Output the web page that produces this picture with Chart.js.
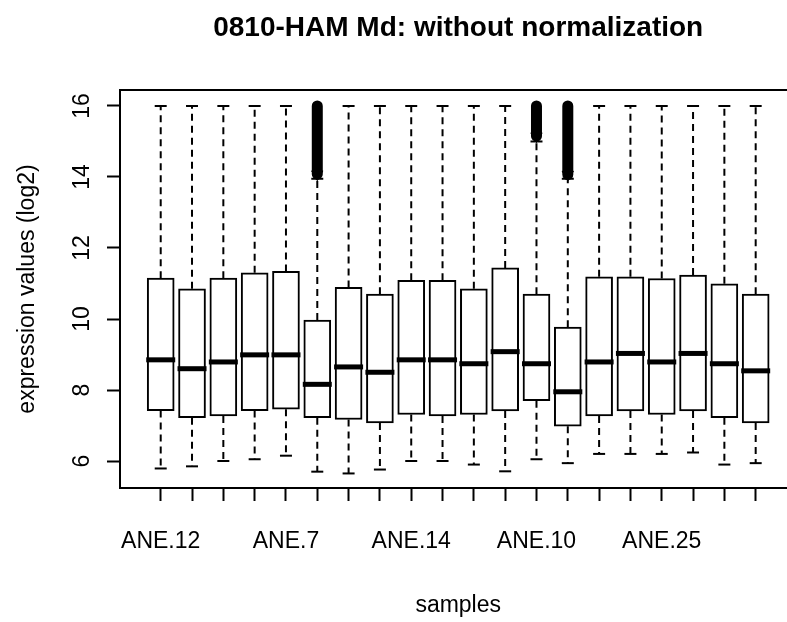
<!DOCTYPE html>
<html>
<head>
<meta charset="utf-8">
<script src="https://cdn.jsdelivr.net/npm/chart.js@4.4.0/dist/chart.umd.min.js"></script>
<style>
  html, body { margin: 0; padding: 0; background: #fff; overflow: hidden; }
  canvas { display: block; }
</style>
</head>
<body>
<canvas id="chart" width="787" height="622"></canvas>
<script>
// samples, only every fourth name fits under the axis
const sampleLabels = ['ANE.12', '', '', '', 'ANE.7', '', '', '', 'ANE.14', '', '', '', 'ANE.10', '', '', '', 'ANE.25', '', '', ''];

// box statistics per sample (log2 expression)
const whiskerLow = [5.79, 5.85, 6.00, 6.05, 6.15, 5.70, 5.65, 5.76, 6.00, 6.00, 5.90, 5.71, 6.05, 5.94, 6.20, 6.20, 6.20, 6.24, 5.90, 5.94];
const quart1 = [7.42, 7.22, 7.27, 7.42, 7.46, 7.22, 7.17, 7.07, 7.31, 7.27, 7.31, 7.41, 7.70, 6.98, 7.27, 7.41, 7.31, 7.41, 7.22, 7.07];
const medians = [8.85, 8.60, 8.79, 8.99, 8.99, 8.16, 8.65, 8.50, 8.85, 8.85, 8.74, 9.08, 8.74, 7.95, 8.79, 9.03, 8.79, 9.03, 8.74, 8.54];
const quart3 = [11.15, 10.85, 11.15, 11.30, 11.34, 9.97, 10.89, 10.70, 11.09, 11.09, 10.85, 11.44, 10.70, 9.77, 11.19, 11.19, 11.14, 11.24, 10.99, 10.70];
const whiskerHigh = [16, 16, 16, 16, 16, 13.95, 16, 16, 16, 16, 16, 16, 15.00, 13.95, 16, 16, 16, 16, 16, 16];

// dense runs of outliers above the upper whisker
const outlierLow = [null, null, null, null, null, 14.08, null, null, null, null, null, null, 15.15, 14.07, null, null, null, null, null, null];
const outlierHigh = [null, null, null, null, null, 16.0, null, null, null, null, null, null, 16.0, 16.0, null, null, null, null, null, null];

const yTickValues = [6, 8, 10, 12, 14, 16];

const mainTitle = '0810-HAM Md: without normalization';
const xTitle = 'samples';

const pos = sampleLabels.map((s, i) => i + 1);

const boxData = pos.map((x, i) => ({ x: x, y: [quart1[i], quart3[i]] }));
const medianData = pos.map((x, i) => ({ x: x, y: medians[i] }));
const capData = [];
const whiskerData = [];
pos.forEach((x, i) => {
  capData.push({ x: x, y: whiskerLow[i] }, { x: x, y: whiskerHigh[i] });
  whiskerData.push({ x: x, y: quart3[i] }, { x: x, y: whiskerHigh[i] }, { x: x, y: null });
  whiskerData.push({ x: x, y: quart1[i] }, { x: x, y: whiskerLow[i] }, { x: x, y: null });
});
const outlierData = [];
const outlierTips = [];
pos.forEach((x, i) => {
  if (outlierLow[i] === null) return;
  outlierData.push({ x: x, y: outlierLow[i] }, { x: x, y: outlierHigh[i] }, { x: x, y: null });
  outlierTips.push({ x: x, y: outlierLow[i] });
});

Chart.defaults.font.family = "'Liberation Sans', Arial, sans-serif";
Chart.defaults.color = '#000';

const framePlugin = {
  id: 'frame',
  afterDraw(chart) {
    const ctx = chart.ctx;
    const a = chart.chartArea;
    const x = chart.scales.x;
    const y = chart.scales.y;
    // R centres titles on the middle of the samples
    const midX = x.getPixelForValue((pos[0] + pos[pos.length - 1]) / 2);
    ctx.save();
    ctx.strokeStyle = '#000';
    ctx.lineWidth = 2;
    // the right side of the frame lies past the picture edge
    ctx.strokeRect(a.left, a.top, a.right - a.left + 20, a.bottom - a.top);
    ctx.fillStyle = '#000';
    ctx.textAlign = 'center';
    ctx.textBaseline = 'alphabetic';
    ctx.font = "bold 28px 'Liberation Sans', Arial, sans-serif";
    ctx.fillText(mainTitle, midX, 36);
    ctx.font = "23px 'Liberation Sans', Arial, sans-serif";
    ctx.fillText(xTitle, midX, 612);
    // y labels run along the axis, as in R
    ctx.textBaseline = 'middle';
    yTickValues.forEach(v => {
      ctx.save();
      ctx.translate(83, y.getPixelForValue(v));
      ctx.rotate(-Math.PI / 2);
      ctx.fillText(String(v), 0, 0);
      ctx.restore();
    });
    ctx.restore();
  }
};

new Chart(document.getElementById('chart'), {
  type: 'bar',
  data: {
    datasets: [
      {
        type: 'scatter',
        data: medianData,
        pointStyle: 'line',
        pointRadius: 14.5,
        borderColor: '#000',
        borderWidth: 5
      },
      {
        type: 'line',
        data: outlierData,
        borderColor: '#000',
        borderWidth: 11,
        borderCapStyle: 'round',
        pointRadius: 0,
        spanGaps: false
      },
      {
        type: 'scatter',
        data: outlierTips,
        pointStyle: 'triangle',
        rotation: 180,
        pointRadius: 6.5,
        backgroundColor: '#000',
        borderColor: '#000',
        borderWidth: 1
      },
      {
        type: 'scatter',
        data: capData,
        pointStyle: 'line',
        pointRadius: 6,
        borderColor: '#000',
        borderWidth: 2
      },
      {
        data: boxData,
        backgroundColor: '#fff',
        borderColor: '#000',
        borderWidth: 2,
        borderSkipped: false,
        barThickness: 27
      },
      {
        type: 'line',
        data: whiskerData,
        borderColor: '#000',
        borderWidth: 2,
        borderDash: [7, 5],
        pointRadius: 0,
        spanGaps: false
      }
    ]
  },
  options: {
    responsive: false,
    animation: false,
    events: [],
    layout: { autoPadding: false, padding: { left: 0, right: 0, top: 90, bottom: 0 } },
    plugins: {
      legend: { display: false },
      tooltip: { enabled: false },
      title: { display: false }
    },
    scales: {
      x: {
        type: 'linear',
        offset: false,
        min: -0.3,
        max: 21.0,
        afterBuildTicks: s => { s.ticks = pos.map(v => ({ value: v })); },
        afterFit: s => { s.height = 134; },
        grid: { offset: false, drawOnChartArea: false, drawTicks: true, tickLength: 13, tickColor: '#000', tickWidth: 2 },
        border: { display: false },
        ticks: {
          autoSkip: false,
          maxRotation: 0,
          padding: 27,
          font: { size: 23 },
          color: '#000',
          callback: v => sampleLabels[v - 1] || ''
        },
        title: { display: false }
      },
      y: {
        min: 5.24,
        max: 16.45,
        afterBuildTicks: s => { s.ticks = yTickValues.map(v => ({ value: v })); },
        afterFit: s => { s.width = 120; },
        grid: { drawOnChartArea: false, drawTicks: true, tickLength: 13, tickColor: '#000', tickWidth: 2 },
        border: { display: false },
        ticks: { display: false },
        title: {
          display: true,
          text: 'expression values (log2)',
          font: { size: 23 },
          color: '#000',
          padding: { top: 14, bottom: 0 }
        }
      }
    }
  },
  plugins: [framePlugin]
});
</script>
</body>
</html>
